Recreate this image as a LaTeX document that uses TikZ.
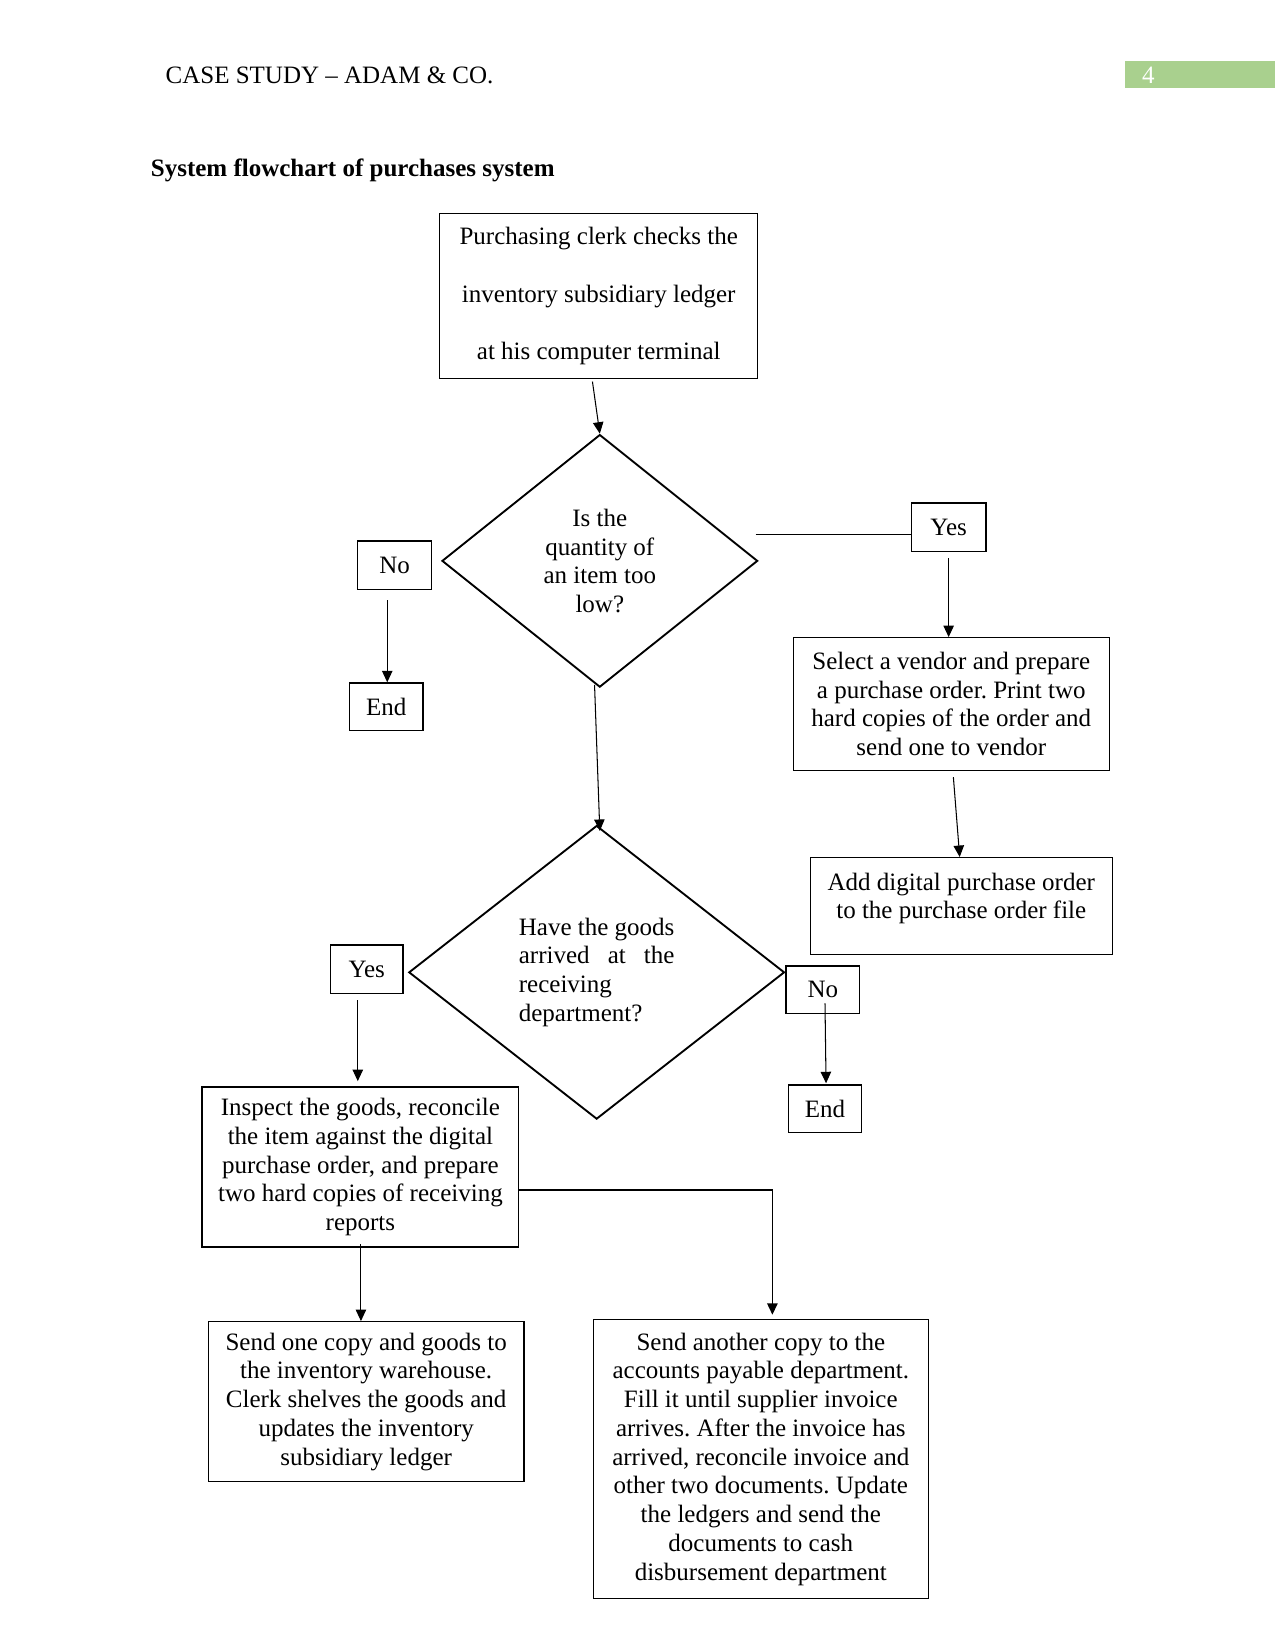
\documentclass[tikz,border=0pt]{standalone}
\usepackage{fontspec}
\setmainfont{Liberation Serif}
\usetikzlibrary{shapes.geometric,arrows.meta,calc}
\definecolor{hdrgreen}{RGB}{169,208,142}
\newlength\pxu
\setlength\pxu{0.505pt}
\newlength\hgw
\frenchspacing
\begin{document}
\settowidth{\hgw}{\fontsize{12}{13.8}\selectfont Have the goods}
\begin{tikzpicture}[x=0.505pt,y=-0.505pt,
  sz/.style 2 args={minimum width=#1*\pxu, minimum height=#2*\pxu},
  box/.style={draw, line width=0.6pt, align=center, inner sep=0pt, font=\fontsize{12}{13.8}\selectfont},
  lbl/.style={draw, line width=0.6pt, inner sep=0pt, font=\fontsize{12}{13.8}\selectfont},
  dia/.style={draw, diamond, line width=0.9pt, inner sep=0pt, font=\fontsize{12}{13.8}\selectfont},
  arr/.style={-{Triangle[length=5.5pt,width=5pt]}, line width=0.5pt},
  txt/.style={inner sep=0pt, font=\fontsize{12}{13.8}\selectfont}]
\useasboundingbox (0,0) rectangle (1212,1568);
% header
\node[txt, anchor=base west] (hdr) at (157,79) {CASE STUDY -- ADAM \& CO.};
\fill[hdrgreen] (1069,58) rectangle (1212,84);
\node[txt, anchor=base west, text=white] (pg) at (1085,79) {4};
\node[txt, anchor=base west, font=\fontsize{12}{13.8}\selectfont\bfseries] (title) at (143,168) {System flowchart of purchases system};
% boxes
\node[box, sz={302}{157}, font=\fontsize{12}{27.7}\selectfont] (box1) at (569,281.5)
  {Purchasing clerk checks the\\inventory subsidiary ledger\\at his computer terminal};
\node[dia, sz={300}{240}, align=center] (d1) at (570,533) {Is the\\quantity of\\an item too\\low?};
\node[lbl, sz={71}{46}] (yes1) at (901.5,501) {Yes};
\node[lbl, sz={70}{46}] (no1) at (375,537) {No};
\node[lbl, sz={70}{45}] (end1) at (367,671.5) {End};
\node[box, sz={300}{126}] (box2) at (904,669)
  {Select a vendor and prepare\\a purchase order. Print two\\hard copies of the order and\\send one to vendor};
\node[box, sz={287}{92}] (box3) at (913.5,861)
  {Add digital purchase order\\to the purchase order file\\[-4pt] ~};
\node[dia, sz={357}{279}, align=left] (d2) at (567,924)
  {Have the goods\\ \makebox[\hgw][s]{arrived at the}\\receiving\\department?};
\node[lbl, sz={69}{46}] (yes2) at (348.5,921) {Yes};
\node[lbl, sz={70}{45}] (no2) at (782,940.5) {No};
\node[lbl, sz={70}{45}] (end2) at (784,1053.5) {End};
\node[box, sz={301}{152}] (box4) at (342.5,1109)
  {Inspect the goods, reconcile\\the item against the digital\\purchase order, and prepare\\two hard copies of receiving\\reports};
\node[box, sz={300}{152}] (box5) at (348,1332)
  {Send one copy and goods to\\the inventory warehouse.\\Clerk shelves the goods and\\updates the inventory\\subsidiary ledger};
\node[box, sz={318}{265}] (box6) at (723,1386.5)
  {Send another copy to the\\accounts payable department.\\Fill it until supplier invoice\\arrives. After the invoice has\\arrived, reconcile invoice and\\other two documents. Update\\the ledgers and send the\\documents to cash\\disbursement department};
% connectors
\draw[arr] ($(box1.south)+(-6,2)$) -- (d1.north);
\coordinate (c1) at (718,508);
\draw[line width=0.5pt] (c1) -- (c1 -| yes1.west);
\draw[arr] ($(yes1.south)+(0,6)$) -- (box2.north -| yes1.south);
\draw[arr] ($(box2.south)+(2,6)$) -- ($(box3.north)+(-1.5,0)$);
\draw[arr] ($(no1.south -| end1.north)+(1,10)$) -- ($(end1.north)+(1,0)$);
\draw[arr] ($(d1.south)+(-5,-3)$) -- ($(d2.north)+(3,6)$);
\draw[arr] ($(yes2.south)+(-8.5,6)$) -- ($(box4.north)+(-2.5,-5)$);
\draw[arr] ($(no2.south)+(2,-10)$) -- ($(end2.north)+(1,-1)$);
\draw[arr] ($(box4.south)+(0.5,-3)$) -- ($(box4.south |- box5.north)+(0.5,0)$);
\draw[arr, line width=0.8pt] ($(box4.east)+(0,22)$) -| ($(box6.north)+(11,-4)$);
\end{tikzpicture}
\end{document}
